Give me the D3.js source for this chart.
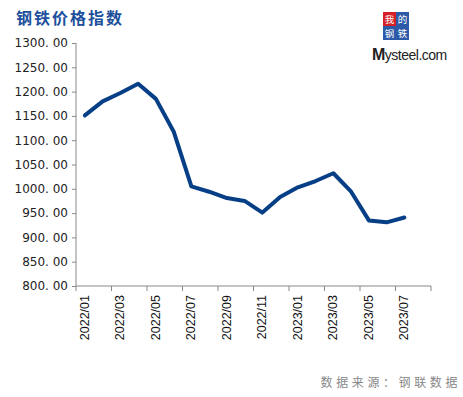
<!DOCTYPE html>
<html>
<head>
<meta charset="utf-8">
<script src="https://cdn.jsdelivr.net/npm/d3@7"></script>
<style>
  body { margin: 0; background: #fff; }
  svg { display: block; }
</style>
</head>
<body>
<svg id="chart" width="463" height="397"></svg>
<script>
// Steel price index, monthly, 2022/01 to 2023/08 (last month empty).
const months = [
  "2022/01", "2022/02", "2022/03", "2022/04", "2022/05", "2022/06", "2022/07",
  "2022/08", "2022/09", "2022/10", "2022/11", "2022/12", "2023/01", "2023/02",
  "2023/03", "2023/04", "2023/05", "2023/06", "2023/07", "2023/08",
];
const values = [
  1151, 1180, 1197, 1216, 1185, 1118, 1005, 994, 981, 975,
  951, 983, 1003, 1016, 1032, 994, 935, 931, 941,
];
const yTicks = [800, 850, 900, 950, 1000, 1050, 1100, 1150, 1200, 1250, 1300];

const svg = d3.select("#chart");
const plot = { left: 76, right: 431, top: 43, bottom: 286 };

const x = d3.scaleBand().domain(months).range([plot.left, plot.right]);
const y = d3.scaleLinear().domain([800, 1300]).range([plot.bottom, plot.top]);

// Title.
svg.append("text")
  .attr("x", 16).attr("y", 24)
  .attr("font-family", "'Noto Sans CJK SC', sans-serif")
  .attr("font-weight", "bold")
  .attr("font-size", 16)
  .attr("letter-spacing", 2)
  .attr("fill", "#1c4f9c")
  .text("钢铁价格指数");

// Y axis.
const yAxis = svg.append("g")
  .attr("transform", `translate(${plot.left},0)`)
  .call(d3.axisLeft(y).tickValues(yTicks).tickSize(4).tickPadding(4)
    .tickFormat(d3.format(".2f")));
yAxis.selectAll("path, line").attr("stroke", "#888");
yAxis.select(".domain").attr("d", `M0,${plot.top}V${plot.bottom}`);
yAxis.selectAll("text")
  .attr("font-family", "'DejaVu Sans', sans-serif")
  .attr("font-size", 12)
  .attr("fill", "#222")
  .text((d) => d3.format(".2f")(d).replace(".", ". "));

// X axis: ticks at band edges every two months, labels at odd months.
const xg = svg.append("g").attr("transform", `translate(0,${plot.bottom})`);
xg.append("line")
  .attr("x1", plot.left).attr("x2", plot.right)
  .attr("stroke", "#888");
const edges = d3.range(0, months.length + 1, 2);
xg.selectAll(".tick")
  .data(edges)
  .join("line")
  .attr("x1", (i) => i < months.length ? x(months[i]) : plot.right)
  .attr("x2", (i) => i < months.length ? x(months[i]) : plot.right)
  .attr("y1", 0).attr("y2", 5)
  .attr("stroke", "#888");
xg.selectAll(".lbl")
  .data(months.filter((m, i) => i % 2 === 0))
  .join("text")
  .attr("transform", (m) => `translate(${x(m) + x.bandwidth() / 2 + 4},9) rotate(-90)`)
  .attr("text-anchor", "end")
  .attr("font-family", "'Liberation Sans', Arial, sans-serif")
  .attr("font-size", 12.5)
  .attr("fill", "#111")
  .text((m) => m);

// The index line.
const line = d3.line()
  .x((d, i) => x(months[i]) + x.bandwidth() / 2)
  .y((d) => y(d));
svg.append("path")
  .datum(values)
  .attr("d", line)
  .attr("fill", "none")
  .attr("stroke", "#073f86")
  .attr("stroke-width", 4)
  .attr("stroke-linejoin", "round")
  .attr("stroke-linecap", "round");

// Mysteel logo.
const logo = svg.append("g").attr("font-family", "'Noto Sans CJK SC', serif");
const cells = [
  { t: "我", c: "#d62027", col: 0, row: 0 },
  { t: "的", c: "#2d5aa8", col: 1, row: 0 },
  { t: "钢", c: "#2d5aa8", col: 0, row: 1 },
  { t: "铁", c: "#2d5aa8", col: 1, row: 1 },
];
logo.selectAll("rect")
  .data(cells)
  .join("rect")
  .attr("x", (d) => 383 + d.col * 13)
  .attr("y", (d) => 12 + d.row * 14)
  .attr("width", 13).attr("height", 14)
  .attr("fill", (d) => d.c);
logo.selectAll("text.cell")
  .data(cells)
  .join("text")
  .attr("class", "cell")
  .attr("x", (d) => 389.5 + d.col * 13)
  .attr("y", (d) => 22.8 + d.row * 14)
  .attr("text-anchor", "middle")
  .attr("font-size", 9.5)
  .attr("fill", "#fff")
  .text((d) => d.t);
svg.append("text")
  .attr("x", 372).attr("y", 60)
  .attr("font-family", "'Liberation Sans', Arial, sans-serif")
  .attr("font-size", 14)
  .attr("letter-spacing", -0.5)
  .attr("fill", "#222")
  .html('<tspan font-size="16" font-weight="bold">M</tspan>ysteel.com');

// Source note.
svg.append("text")
  .attr("x", 461).attr("y", 387)
  .attr("text-anchor", "end")
  .attr("font-family", "'Noto Sans CJK SC', sans-serif")
  .attr("font-size", 12)
  .attr("letter-spacing", 3.6)
  .attr("fill", "#888")
  .text("数据来源：钢联数据");
</script>
</body>
</html>
